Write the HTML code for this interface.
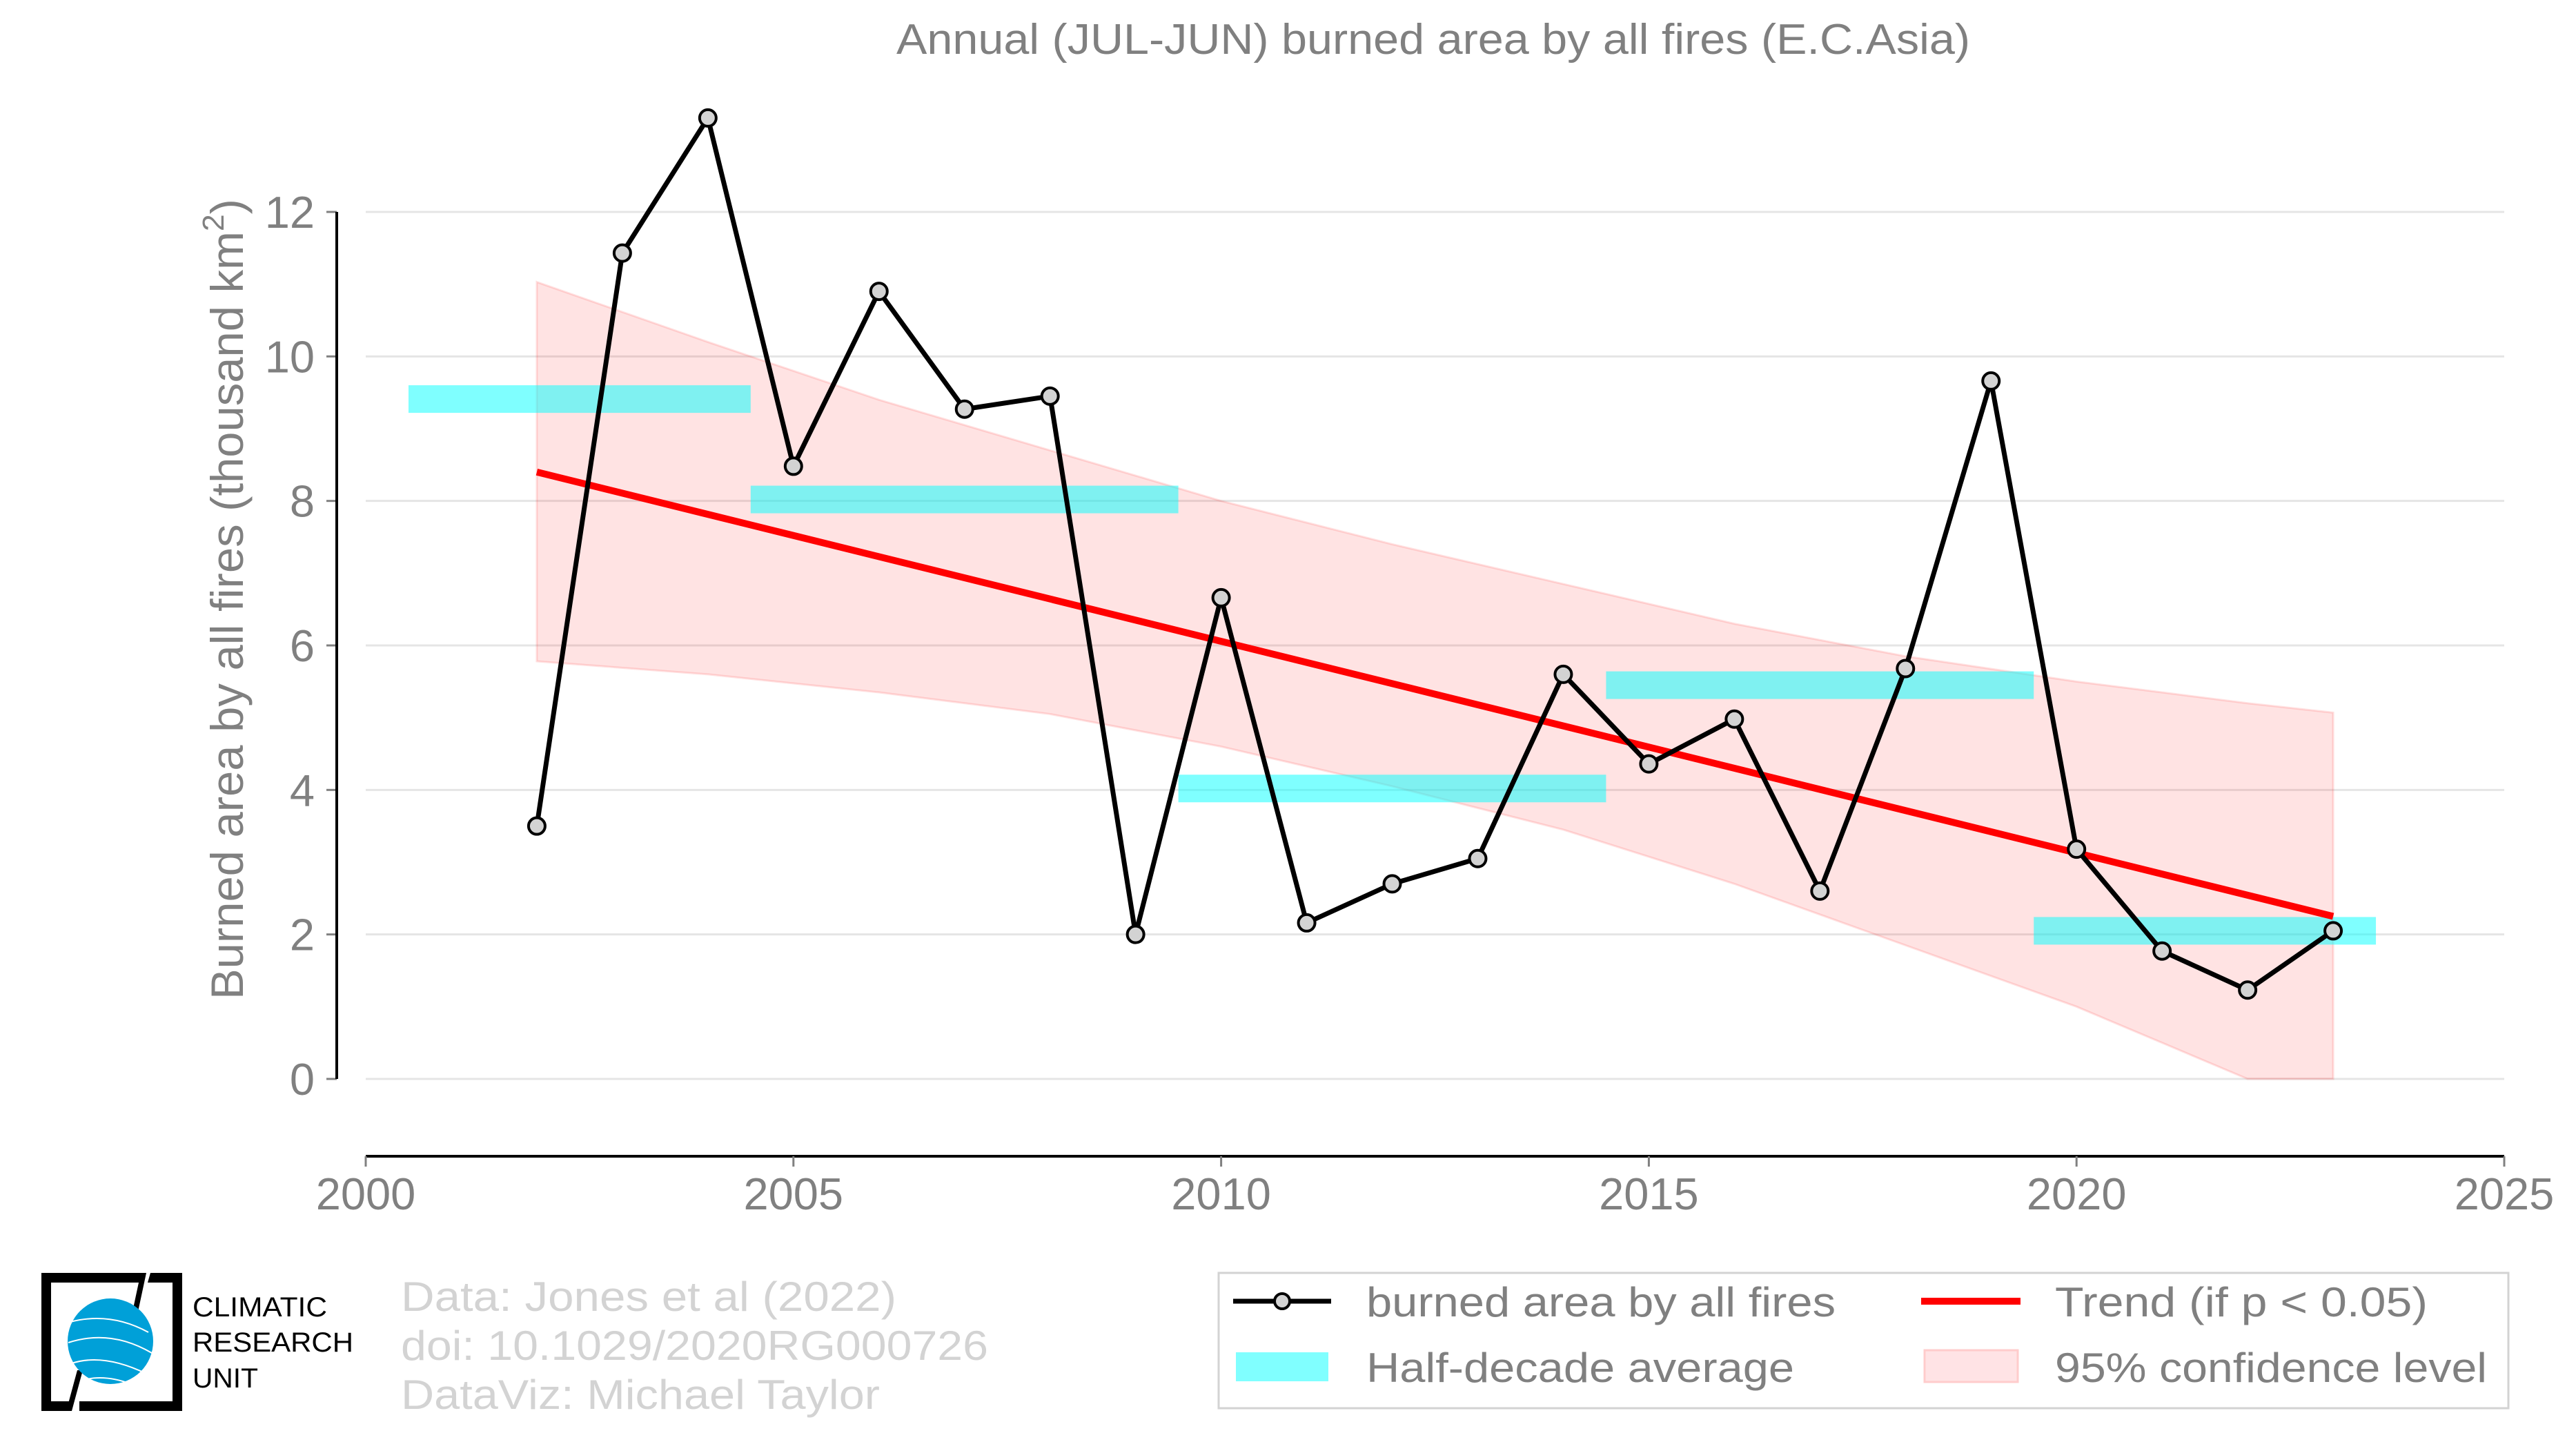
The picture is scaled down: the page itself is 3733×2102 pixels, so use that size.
<!DOCTYPE html>
<html><head><meta charset="utf-8"><style>
html,body{margin:0;padding:0;background:#fff;}
svg{display:block;font-family:"Liberation Sans",Arial,sans-serif;}
</style></head><body>
<svg id="chart" width="3733" height="2102" viewBox="0 0 3733 2102" xmlns="http://www.w3.org/2000/svg">
<text x="2077" y="78" text-anchor="middle" font-size="62" fill="#808080" textLength="1556" lengthAdjust="spacingAndGlyphs">Annual (JUL-JUN) burned area by all fires (E.C.Asia)</text>
<g id="grid"></g>
<g id="band"></g>
<g id="bars"></g>
<g id="trend"></g>
<g id="series"></g>
<g id="axes"></g>
<text transform="translate(352,868) rotate(-90)" text-anchor="middle" font-size="66" fill="#808080" textLength="1160" lengthAdjust="spacingAndGlyphs">Burned area by all fires (thousand km<tspan font-size="44" dy="-28">2</tspan><tspan dy="28">)</tspan></text>

<g>
 <path d="M60 1844 H205 V1858 H74 V2030 H100 V2044 H60 Z" fill="#000"/>
 <path d="M218 1844 H264 V2044 H115 V2030 H250 V1858 H214 Z" fill="#000"/>
 <path d="M212 1844 L200 1900 L192 1900 L204 1844 Z" fill="#000"/>
 <path d="M120 1985 L104 2044 L96 2044 L112 1985 Z" fill="#000"/>
 <circle cx="160" cy="1943" r="62" fill="#00a0d8"/>
 <path d="M102 1915 Q160 1900 215 1930 M99 1945 Q160 1925 220 1960 M104 1975 Q150 1960 212 1990 M118 2000 Q150 1990 190 2005" stroke="#fff" stroke-width="2" fill="none"/>
 <text x="279" y="1907" font-size="40" fill="#000" textLength="195" lengthAdjust="spacingAndGlyphs">CLIMATIC</text>
 <text x="279" y="1958" font-size="40" fill="#000" textLength="233" lengthAdjust="spacingAndGlyphs">RESEARCH</text>
 <text x="279" y="2010" font-size="40" fill="#000" textLength="95" lengthAdjust="spacingAndGlyphs">UNIT</text>
</g>
<g font-size="60" fill="#d3d3d3">
 <text x="581" y="1899" textLength="718" lengthAdjust="spacingAndGlyphs">Data: Jones et al (2022)</text>
 <text x="581" y="1970" textLength="851" lengthAdjust="spacingAndGlyphs">doi: 10.1029/2020RG000726</text>
 <text x="581" y="2041" textLength="694" lengthAdjust="spacingAndGlyphs">DataViz: Michael Taylor</text>
</g>

<g>
 <rect x="1766" y="1844" width="1869" height="196" fill="#fff" stroke="#d3d3d3" stroke-width="3"/>
 <g>
  <line x1="1787" y1="1885" x2="1929" y2="1885" stroke="#000" stroke-width="7"/>
  <circle cx="1858" cy="1885" r="11" fill="#d3d3d3" stroke="#000" stroke-width="4"/>
  <text x="1980" y="1907" font-size="60" fill="#808080" textLength="680" lengthAdjust="spacingAndGlyphs">burned area by all fires</text>
 </g>
 <g>
  <line x1="2784" y1="1885" x2="2928" y2="1885" stroke="#f00" stroke-width="10"/>
  <text x="2978" y="1907" font-size="60" fill="#808080" textLength="540" lengthAdjust="spacingAndGlyphs">Trend (if p &lt; 0.05)</text>
 </g>
 <g>
  <rect x="1791" y="1959" width="134" height="42" fill="#80ffff"/>
  <text x="1980" y="2002" font-size="60" fill="#808080" textLength="620" lengthAdjust="spacingAndGlyphs">Half-decade average</text>
 </g>
 <g>
  <rect x="2789" y="1956" width="135" height="46" fill="#ffe3e5" stroke="#ffcccc" stroke-width="3"/>
  <text x="2978" y="2002" font-size="60" fill="#808080" textLength="626" lengthAdjust="spacingAndGlyphs">95% confidence level</text>
 </g>
</g>
</svg>
<script>
const years=[2002,2003,2004,2005,2006,2007,2008,2009,2010,2011,2012,2013,2014,2015,2016,2017,2018,2019,2020,2021,2022,2023];
const burned=[3.5,11.43,13.3,8.48,10.9,9.27,9.45,2.0,6.66,2.16,2.7,3.05,5.6,4.36,4.98,2.6,5.68,9.66,3.18,1.77,1.23,2.05];
const halfStart=[2000.5,2004.5,2009.5,2014.5,2019.5];
const halfEnd=[2004.5,2009.5,2014.5,2019.5,2023.5];
const halfMean=[9.41,8.02,4.02,5.45,2.05];
const trendYears=[2002,2023];
const trendVals=[8.4,2.25];
const bandYears=[2002,2004,2006,2008,2010,2012,2014,2016,2018,2020,2021,2022,2023];
const bandUpper=[11.03,10.2,9.4,8.7,8.0,7.4,6.85,6.3,5.85,5.5,5.35,5.2,5.07];
const bandLower=[5.78,5.6,5.35,5.05,4.6,4.05,3.45,2.7,1.85,1.0,0.5,0.0,0.0];
const xTicks=[2000,2005,2010,2015,2020,2025];
const yTicks=[0,2,4,6,8,10,12];

const NS='http://www.w3.org/2000/svg';
const X0=530,X1=3629,Y0=1563,Y1=307;
function sx(v){return X0+(v-2000)/25*(X1-X0);}
function sy(v){return Y0-v/12*(Y0-Y1);}
function mk(tag,attrs,parent){const e=document.createElementNS(NS,tag);for(const k in attrs)e.setAttribute(k,attrs[k]);parent.appendChild(e);return e;}
const grid=document.getElementById('grid'),band=document.getElementById('band'),bars=document.getElementById('bars'),trend=document.getElementById('trend'),series=document.getElementById('series'),axes=document.getElementById('axes');

yTicks.forEach(t=>{
 const g=mk('line',{x1:X0,x2:X1,y1:sy(t),y2:sy(t),stroke:'#e5e5e5','stroke-width':3},grid);
 
 
 const tk=mk('line',{x1:473,x2:488,y1:sy(t),y2:sy(t),stroke:'#808080','stroke-width':3},axes);
 
 
 const lb=mk('text',{x:456,y:sy(t)+23,'text-anchor':'end','font-size':65,fill:'#808080'},axes);
 lb.textContent=t;
 
 
});
const ya=mk('line',{x1:488,x2:488,y1:Y1,y2:Y0,stroke:'#000','stroke-width':4},axes);


const xa=mk('line',{x1:X0,x2:X1,y1:1675,y2:1675,stroke:'#000','stroke-width':4},axes);


xTicks.forEach(t=>{
 const tk=mk('line',{x1:sx(t),x2:sx(t),y1:1675,y2:1690,stroke:'#808080','stroke-width':3},axes);
 
 
 const lb=mk('text',{x:sx(t),y:1752,'text-anchor':'middle','font-size':65,fill:'#808080'},axes);
 lb.textContent=t;
 
 
});

let d='';
bandYears.forEach((y,i)=>{d+=(i?'L':'M')+sx(y)+' '+sy(bandUpper[i])+' ';});
for(let i=bandYears.length-1;i>=0;i--){d+='L'+sx(bandYears[i])+' '+sy(Math.max(0,bandLower[i]))+' ';}
const bp=mk('path',{d:d+'Z',fill:'#ff0000','fill-opacity':0.11,stroke:'#ff0000','stroke-opacity':0.12,'stroke-width':3},band);



halfMean.forEach((m,i)=>{
 const r=mk('rect',{x:sx(halfStart[i]),y:sy(m)-20,width:sx(halfEnd[i])-sx(halfStart[i]),height:40,fill:'#00ffff','fill-opacity':0.5},bars);
 
 
});

const tl=mk('line',{x1:sx(trendYears[0]),y1:sy(trendVals[0]),x2:sx(trendYears[1]),y2:sy(trendVals[1]),stroke:'#ff0000','stroke-width':10},trend);



const pts=years.map((y,i)=>sx(y)+','+sy(burned[i])).join(' ');
const pl=mk('polyline',{points:pts,fill:'none',stroke:'#000','stroke-width':7,'stroke-linejoin':'round'},series);


years.forEach((y,i)=>{
 const c=mk('circle',{cx:sx(y),cy:sy(burned[i]),r:12,fill:'#d3d3d3',stroke:'#000','stroke-width':4},series);
 
 
});
</script>
</body></html>
